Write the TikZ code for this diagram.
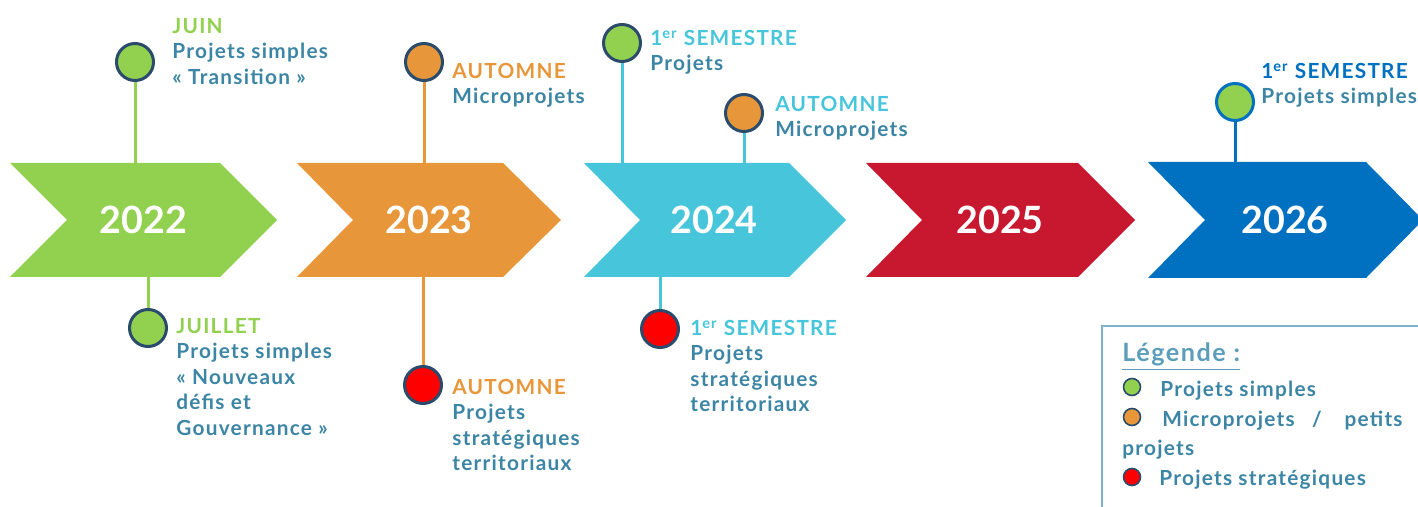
\documentclass[tikz,border=0pt]{standalone}
\usepackage{fontspec}
\setmainfont{Lato}
\newfontfamily\lbf[LetterSpace=6]{Lato}
\definecolor{cg}{HTML}{92D050}
\definecolor{co}{HTML}{E8963A}
\definecolor{cc}{HTML}{47C6DB}
\definecolor{cr}{HTML}{C8182F}
\definecolor{cb}{HTML}{0070C0}
\definecolor{navy}{HTML}{2A4B6B}
\definecolor{txt}{HTML}{3C85A5}
\definecolor{legt}{HTML}{5C9EBA}
\definecolor{legb}{HTML}{7FB3C9}
\definecolor{dotred}{HTML}{FF0000}
\begin{document}
\begin{tikzpicture}[x=0.5pt,y=-0.5pt,
  year/.style={text=white,inner sep=0,font=\bfseries\fontsize{18.8}{20}\selectfont},
  dot/.style={circle,draw=navy,line width=1.5pt,minimum size=18.5pt,inner sep=0},
  stem/.style={line width=1.5pt},
  lbl/.style={anchor=north west,inner sep=0,align=left,text=txt,font=\lbf\bfseries\fontsize{10.4}{12.75}\selectfont},
  ltxt/.style={inner sep=0,text=txt,font=\lbf\bfseries\fontsize{10.4}{12.75}\selectfont},
  ldot/.style={circle,draw=navy,line width=0.8pt,minimum size=8.5pt,inner sep=0}]
\useasboundingbox (0,0) rectangle (1418,507);
% chevrons
\fill[cg] (10,163) -- (220,163) -- (277,220) -- (220,277) -- (10,277) -- (67,220) -- cycle;
\fill[co] (297,163) -- (503,163) -- (561,220) -- (503,277) -- (297,277) -- (353,220) -- cycle;
\fill[cc] (584,163) -- (789,163) -- (846,220) -- (789,277) -- (584,277) -- (640,220) -- cycle;
\fill[cr] (866,163) -- (1078,163) -- (1135,220) -- (1078,277) -- (866,277) -- (922,220) -- cycle;
\fill[cb] (1148,162) -- (1366,162) -- (1423,220) -- (1366,278) -- (1148,278) -- (1205,220) -- cycle;
\node[year] (y22) at (143.5,220) {2022};
\node[year] (y23) at (429,220) {2023};
\node[year] (y24) at (714,220) {2024};
\node[year] (y25) at (1000,220) {2025};
\node[year] (y26) at (1285,220) {2026};
% anchor points on chevrons
\coordinate (a22t) at (135,163);
\coordinate (a22b) at (148,277);
\coordinate (a23t) at (424,163);
\coordinate (a23b) at (423,277);
\coordinate (a24t) at (622,163);
\coordinate (a24u) at (744,163);
\coordinate (a24b) at (660,277);
\coordinate (a26t) at (1235,162);
% circles
\node[dot,fill=cg] (c22t) at (135,62) {};
\node[dot,fill=cg] (c22b) at (148,328) {};
\node[dot,fill=co] (c23t) at (424,62) {};
\node[dot,fill=dotred] (c23b) at (423,385) {};
\node[dot,fill=cg] (c24a) at (622,43) {};
\node[dot,fill=co] (c24b) at (744,113) {};
\node[dot,fill=dotred] (c24c) at (660,329) {};
\node[dot,fill=cg,draw=cb] (c26) at (1235,102) {};
% stems
\draw[stem,cg] (a22t) -- (c22t);
\draw[stem,cg] (a22b) -- (c22b);
\draw[stem,co] (a23t) -- (c23t);
\draw[stem,co] (a23b) -- (c23b);
\draw[stem,cc] (a24t) -- (c24a);
\draw[stem,cc] (a24u) -- (c24b);
\draw[stem,cc] (a24b) -- (c24c);
\draw[stem,cb] (a26t) -- (c26);
% labels
\node[lbl] (l22t) at (172,13) {\rule{0pt}{10pt}{\color{cg}JUIN}\\Projets simples\\« Transition »};
\node[lbl] (l22b) at (176,313) {\rule{0pt}{10pt}{\color{cg}JUILLET}\\Projets simples\\« Nouveaux\\défis et\\Gouvernance »};
\node[lbl] (l23t) at (452,58) {\rule{0pt}{10pt}{\color{co}AUTOMNE}\\Microprojets};
\node[lbl] (l23b) at (452,374) {\rule{0pt}{10pt}{\color{co}AUTOMNE}\\Projets\\stratégiques\\territoriaux};
\node[lbl] (l24a) at (650,25) {\rule{0pt}{10pt}{\color{cc}1\textsuperscript{er} SEMESTRE}\\Projets};
\node[lbl] (l24b) at (775,91) {\rule{0pt}{10pt}{\color{cc}AUTOMNE}\\Microprojets};
\node[lbl] (l24c) at (690,315) {\rule{0pt}{10pt}{\color{cc}1\textsuperscript{er} SEMESTRE}\\Projets\\stratégiques\\territoriaux};
\node[lbl] (l26) at (1261,58) {\rule{0pt}{10pt}{\color{cb}1\textsuperscript{er} SEMESTRE}\\Projets simples};
% legend
\draw[legb,line width=1pt] (1102,520) -- (1102,326) -- (1430,326);
\node[inner sep=0,anchor=base west,text=legt,font=\lbf\bfseries\fontsize{12.6}{14}\selectfont] (lt) at (1122,362) {\underline{Légende :}};
\node[ldot,fill=cg] (d1) at (1132,387) {};
\node[ldot,fill=co] (d2) at (1132,417) {};
\node[ldot,fill=dotred] (d3) at (1132,477) {};
\node[ltxt,anchor=base west] (t1) at (1160,397) {Projets simples};
\node[ltxt,anchor=base west] (t2a) at (1162,427) {Microprojets};
\node[ltxt,anchor=base] (t2b) at (1317,427) {/};
\node[ltxt,anchor=base east] (t2c) at (1403,427) {petits};
\node[ltxt,anchor=base west] (t2d) at (1122,455) {projets};
\node[ltxt,anchor=base west] (t3) at (1159,485) {Projets stratégiques};
\end{tikzpicture}
\end{document}
